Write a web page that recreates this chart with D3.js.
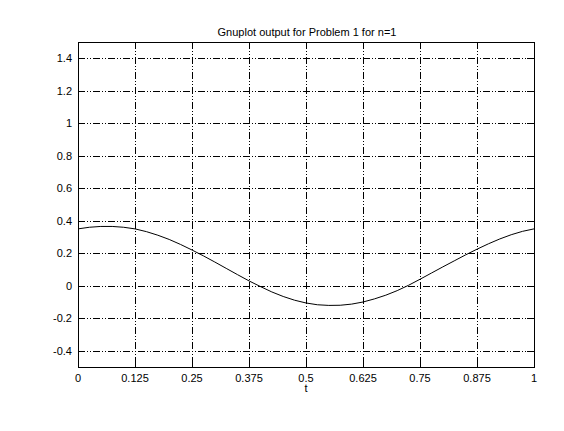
<!DOCTYPE html>
<html>
<head>
<meta charset="utf-8">
<script src="https://cdn.jsdelivr.net/npm/d3@7"></script>
<style>
html,body{margin:0;padding:0;background:#fff;}
svg{display:block;}
text{font-family:"Liberation Sans",Arial,Helvetica,sans-serif;font-size:11px;fill:#000;}
</style>
</head>
<body>
<svg id="chart" width="564" height="431"></svg>
<script>
const title = "Gnuplot output for Problem 1 for n=1";
const xLabel = "t";
const xTicks = [0, 0.125, 0.25, 0.375, 0.5, 0.625, 0.75, 0.875, 1];
const xTickLabels = ["0", "0.125", "0.25", "0.375", "0.5", "0.625", "0.75", "0.875", "1"];
const yTicks = [-0.4, -0.2, 0, 0.2, 0.4, 0.6, 0.8, 1, 1.2, 1.4];
const yTickLabels = ["-0.4", "-0.2", "0", "0.2", "0.4", "0.6", "0.8", "1", "1.2", "1.4"];
const tValues = [0, 0.025, 0.05, 0.075, 0.1, 0.125, 0.15, 0.175, 0.2, 0.225, 0.25, 0.275, 0.3, 0.325, 0.35, 0.375, 0.4, 0.425, 0.45, 0.475, 0.5, 0.525, 0.55, 0.575, 0.6, 0.625, 0.65, 0.675, 0.7, 0.725, 0.75, 0.775, 0.8, 0.825, 0.85, 0.875, 0.9, 0.925, 0.95, 0.975, 1];
const yValues = [0.350, 0.360, 0.365, 0.365, 0.360, 0.350, 0.333, 0.311, 0.285, 0.254, 0.220, 0.184, 0.146, 0.107, 0.068, 0.030, -0.005, -0.038, -0.066, -0.089, -0.106, -0.117, -0.121, -0.120, -0.113, -0.100, -0.081, -0.058, -0.030, 0.003, 0.040, 0.078, 0.116, 0.153, 0.190, 0.225, 0.258, 0.288, 0.314, 0.335, 0.350];

const svg = d3.select("#chart");
const L = 78, R = 534, T = 42, B = 367;
const x = d3.scaleLinear().domain([0, 1]).range([L, R]);
const y = d3.scaleLinear().domain([-0.5, 1.5]).range([B, T]);
const px = v => Math.round(v) + 0.5;
const dash = "7,2,1,2,1,2";
const tickLen = 7;

// grid
const g = svg.append("g").attr("shape-rendering", "crispEdges");
xTicks.slice(1, -1).forEach(v => {
  g.append("line").attr("x1", px(x(v))).attr("x2", px(x(v)))
    .attr("y1", T).attr("y2", B)
    .attr("stroke", "#000").attr("stroke-width", 1).attr("stroke-dasharray", dash);
});
yTicks.forEach(v => {
  g.append("line").attr("x1", L).attr("x2", R)
    .attr("y1", px(y(v))).attr("y2", px(y(v)))
    .attr("stroke", "#000").attr("stroke-width", 1).attr("stroke-dasharray", dash);
});

// ticks (inside, all sides)
xTicks.forEach(v => {
  g.append("line").attr("x1", px(x(v))).attr("x2", px(x(v))).attr("y1", B).attr("y2", B - tickLen).attr("stroke", "#000");
  g.append("line").attr("x1", px(x(v))).attr("x2", px(x(v))).attr("y1", T).attr("y2", T + tickLen).attr("stroke", "#000");
});
yTicks.forEach(v => {
  g.append("line").attr("x1", L).attr("x2", L + tickLen).attr("y1", px(y(v))).attr("y2", px(y(v))).attr("stroke", "#000");
  g.append("line").attr("x1", R - tickLen).attr("x2", R).attr("y1", px(y(v))).attr("y2", px(y(v))).attr("stroke", "#000");
});

// border
g.append("rect").attr("x", L + 0.5).attr("y", T + 0.5).attr("width", R - L).attr("height", B - T)
  .attr("fill", "none").attr("stroke", "#000").attr("stroke-width", 1);

// tick labels
xTicks.forEach((v, i) => {
  svg.append("text").attr("x", x(v)).attr("y", B + 15).attr("text-anchor", "middle").text(xTickLabels[i]);
});
yTicks.forEach((v, i) => {
  svg.append("text").attr("x", L - 6).attr("y", y(v) + 4).attr("text-anchor", "end").text(yTickLabels[i]);
});

// labels
svg.append("text").attr("x", (L + R) / 2).attr("y", B + 25).attr("text-anchor", "middle").text(xLabel);
svg.append("text").attr("x", (L + R) / 2 + 1).attr("y", 36).attr("text-anchor", "middle").text(title);

// curve
const line = d3.line().x((d, i) => x(tValues[i])).y(d => y(d));
svg.append("path").datum(yValues).attr("d", line)
  .attr("fill", "none").attr("stroke", "#000").attr("stroke-width", 1);
</script>
</body>
</html>
